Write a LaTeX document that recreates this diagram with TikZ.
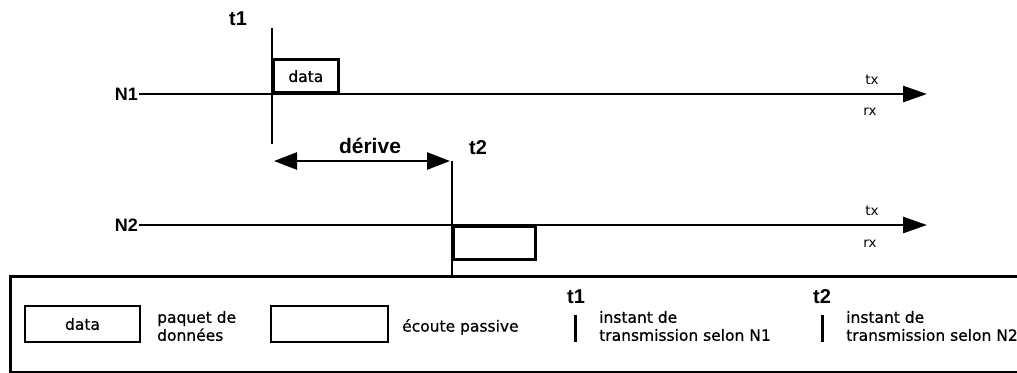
\documentclass[tikz,border=0pt]{standalone}
\usepackage{fontspec}
\setmainfont{DejaVu Sans}
\newfontfamily\headfont{Liberation Sans}
\newfontfamily\legfont[FakeBold=0.7]{DejaVu Sans}
\usetikzlibrary{arrows.meta}
\tikzset{
  x=1bp, y=-1bp,
  thick line/.style={line width=2.6bp, line cap=butt},
  axisarrow/.style={thick line, -{Triangle[length=24bp,width=16bp]}},
  drift/.style={thick line, {Triangle[length=23bp,width=17bp]}-{Triangle[length=23bp,width=17bp]}},
  boldlbl/.style={inner sep=1bp, font=\headfont\bfseries\fontsize{18bp}{21bp}\selectfont},
  tlbl/.style={inner sep=1bp, font=\headfont\bfseries\fontsize{20bp}{23bp}\selectfont},
  smalllbl/.style={inner sep=0pt, font=\fontsize{13.5bp}{15bp}\selectfont},
  legtext/.style={inner sep=0pt, align=left, font=\legfont\fontsize{15.5bp}{18bp}\selectfont},
  box/.style={draw, thick line, inner sep=0pt, font=\legfont\fontsize{15.5bp}{18bp}\selectfont},
}
\begin{document}
\begin{tikzpicture}
\useasboundingbox (0,0) rectangle (1017,372);
\clip (0,0) rectangle (1017,372);

% ---- N1 ----
\node[boldlbl, anchor=east] (N1) at (139,94) {N1};
\coordinate (N1end) at (927,94);
\draw[axisarrow] (N1.east) -- (N1end);
\node[smalllbl] (tx1) at (872,80) {tx};
\node[smalllbl] (rx1) at (870,112) {rx};

\coordinate (t1top) at (272,28);
\coordinate (t1bot) at (272,144);
\draw[thick line] (t1top) -- (t1bot);
\node[tlbl] (t1) at (238,19) {t1};
\node[box, minimum width=65bp, minimum height=33bp, anchor=south west] (d1) at (272,94) {data};

% ---- drift ----
\coordinate (dl) at (274,161);
\coordinate (dr) at (450,161);
\draw[drift] (dl) -- (dr);
\node[boldlbl, font=\headfont\bfseries\fontsize{21bp}{24bp}\selectfont] (der) at (370,146) {dérive};
\node[tlbl] (t2) at (478,148) {t2};

% ---- N2 ----
\node[boldlbl, anchor=east] (N2) at (139,225) {N2};
\coordinate (N2end) at (927,225);
\draw[axisarrow] (N2.east) -- (N2end);
\node[smalllbl] (tx2) at (872,211) {tx};
\node[smalllbl] (rx2) at (870,244) {rx};
\node[box, minimum width=82bp, minimum height=33bp, anchor=north west] (e2) at (452,225) {};

% ---- legend ----
\node[draw, thick line, minimum width=1030bp, minimum height=96bp, anchor=north west, inner sep=0pt] (legend) at (9,275) {};
\coordinate (t2top) at (452,161);
\draw[thick line] (t2top) -- (legend.north -| t2top);

\node[box, minimum width=115bp, minimum height=36bp] (ld) at (82.5,324) {data};
\node[legtext, anchor=west] (lpd) at (157,326) {paquet de\\données};
\node[box, minimum width=117bp, minimum height=36bp] (le) at (329.5,324) {};
\node[legtext, anchor=west] (lep) at (402,327) {écoute passive};

\node[tlbl] (lt1) at (576,297) {t1};
\coordinate (b1a) at (575,315);
\coordinate (b1b) at (575,342);
\draw[line width=3bp] (b1a) -- (b1b);
\node[legtext, anchor=west] (li1) at (599,326) {instant de\\transmission selon N1};

\node[tlbl] (lt2) at (822,297) {t2};
\coordinate (b2a) at (822,315);
\coordinate (b2b) at (822,342);
\draw[line width=3bp] (b2a) -- (b2b);
\node[legtext, anchor=west] (li2) at (846,326) {instant de\\transmission selon N2};
\end{tikzpicture}
\end{document}
